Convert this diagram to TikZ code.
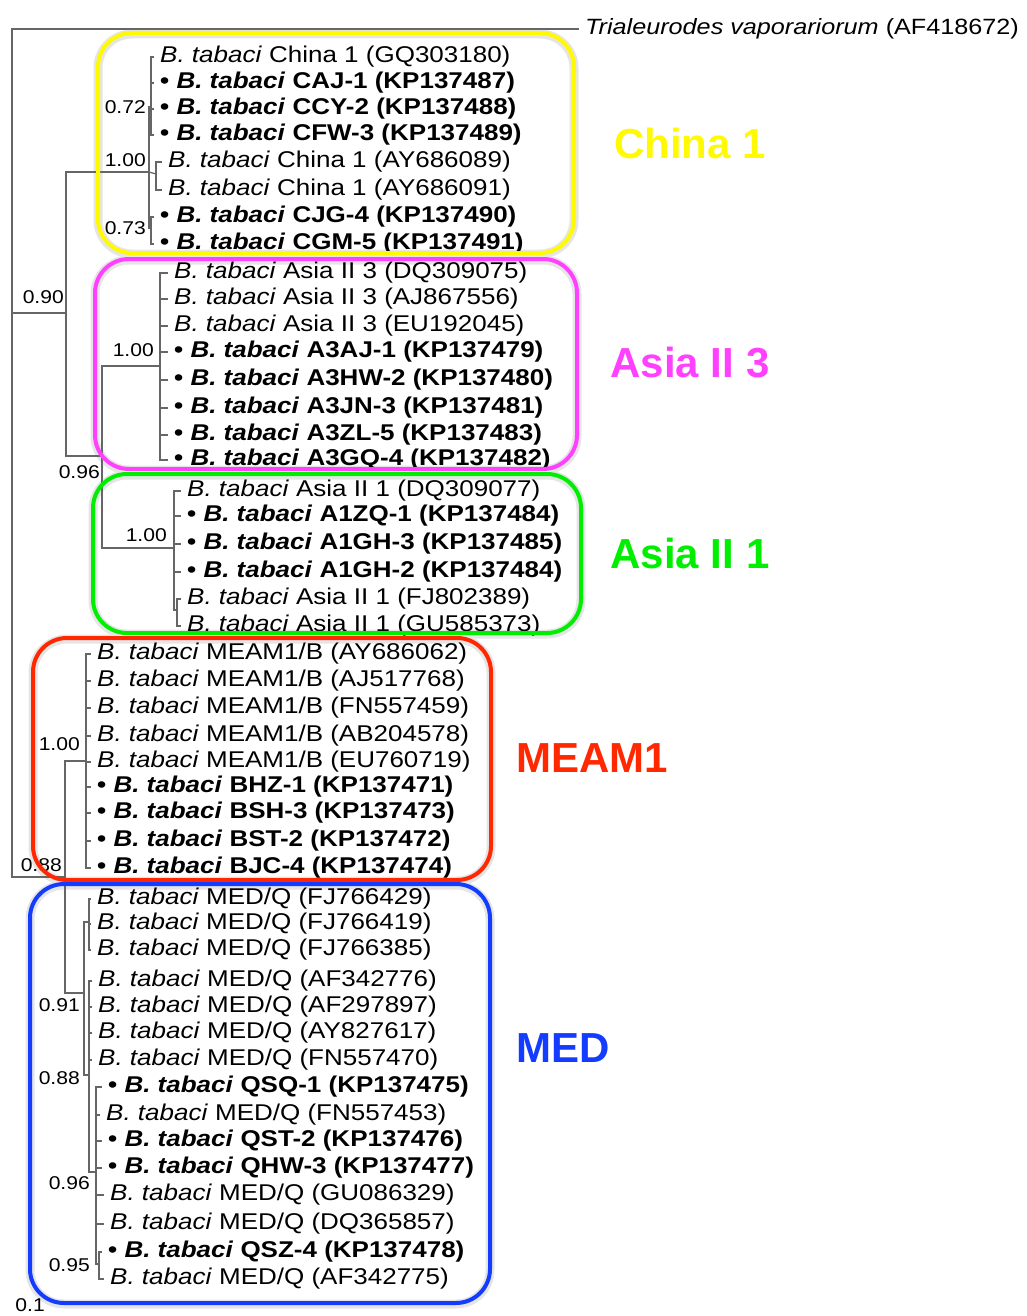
\documentclass[tikz,border=0pt]{standalone}
\usepackage{fontspec}
\setmainfont{Liberation Sans}[FakeStretch=1.14]
\newfontfamily\cladefont{Liberation Sans}
\usetikzlibrary{positioning}
\definecolor{myyellow}{RGB}{255,250,0}
\definecolor{mymagenta}{RGB}{255,64,255}
\definecolor{mygreen}{RGB}{0,238,0}
\definecolor{myred}{RGB}{255,40,0}
\definecolor{myblue}{RGB}{20,60,255}
\newcommand{\reftip}[1]{\textit{B. tabaci} #1}
\newcommand{\newtip}[2]{\textbf{\textbullet\ \textit{B. tabaci} #1 (#2)}}

\begin{document}
\begin{tikzpicture}[x=1pt, y=-1pt,
    tree/.style = {draw=black!60, line width=1.3pt},
    tipn/.style = {anchor=west, inner xsep=6pt, inner ysep=0pt, yshift=-2pt,
      font=\fontsize{22.8}{24}\selectfont},
    supp/.style = {anchor=east, inner sep=0pt, font=\fontsize{18.5}{20}\selectfont},
    cladebox/.style = {rounded corners=34pt, line width=4pt},
    halo/.style = {draw=black!10, rounded corners=34pt, line width=9pt},
    cladelab/.style = {font=\cladefont\bfseries\fontsize{42}{44}\selectfont},
  ]
\useasboundingbox (0,0) rectangle (1026,1316);

% halo behind the clade boxes
\foreach \a/\b/\c/\d in {98/33/574/253, 95/259/577/469, 93/474/581/633,
    33/638/491/880, 30/884/490/1303}
  \draw[halo] (\a,\b+1) rectangle (\c,\d+1);

% internal nodes of the tree
\coordinate (root)   at (12,313);
\coordinate (n090)   at (66,313);
\coordinate (nChina) at (149,172);
\coordinate (n072)   at (151,107);
\coordinate (nAY)    at (156,174);
\coordinate (n073)   at (151,228);
\coordinate (n096)   at (102,456);
\coordinate (nA3)    at (160,366);
\coordinate (nA1)    at (174,548);
\coordinate (nA1b)   at (177,610);
\coordinate (n088)   at (65,877);
\coordinate (nMEAM)  at (86,761);
\coordinate (nMED)   at (84,993);
\coordinate (nMEDa)  at (89,922);
\coordinate (nMEDb)  at (89,1075);
\coordinate (nMEDc)  at (96,1172);
\coordinate (nMEDd)  at (99,1264);

\draw[tree] (root) -- (n090);
\draw[tree] (root) |- (n088);
\draw[tree] (n090) |- (nChina);
\draw[tree] (n090) |- (n096);
\draw[tree] (nChina) |- (n072);
\draw[tree] (nChina) -- (nAY);
\draw[tree] (nChina) |- (n073);
\draw[tree] (n096) |- (nA3);
\draw[tree] (n096) |- (nA1);
\draw[tree] (nA1) |- (nA1b);
\draw[tree] (n088) |- (nMEAM);
\draw[tree] (n088) |- (nMED);
\draw[tree] (nMED) |- (nMEDa);
\draw[tree] (nMED) |- (nMEDb);
\draw[tree] (nMEDb) |- (nMEDc);
\draw[tree] (nMEDc) |- (nMEDd);

% outgroup
\node[tipn, font=\fontsize{22.1}{24}\selectfont] (tv) at (579,27)
  {\textit{Trialeurodes vaporariorum} (AF418672)};
\draw[tree] (root) |- (tv.west);

% tips: name/parent/x/y/text
\foreach \n/\p/\x/\y/\t in {
    c1/n072/154/55/{\reftip{China 1 (GQ303180)}},
    c2/n072/154/81/{\newtip{CAJ-1}{KP137487}},
    c3/n072/154/107/{\newtip{CCY-2}{KP137488}},
    c4/n072/154/133/{\newtip{CFW-3}{KP137489}},
    c5/nAY/162/160/{\reftip{China 1 (AY686089)}},
    c6/nAY/162/188/{\reftip{China 1 (AY686091)}},
    c7/n073/154/215/{\newtip{CJG-4}{KP137490}},
    c8/n073/154/242/{\newtip{CGM-5}{KP137491}},
    d1/nA3/168/271/{\reftip{Asia II 3 (DQ309075)}},
    d2/nA3/168/297/{\reftip{Asia II 3 (AJ867556)}},
    d3/nA3/168/324/{\reftip{Asia II 3 (EU192045)}},
    d4/nA3/168/350/{\newtip{A3AJ-1}{KP137479}},
    d5/nA3/168/378/{\newtip{A3HW-2}{KP137480}},
    d6/nA3/168/406/{\newtip{A3JN-3}{KP137481}},
    d7/nA3/168/433/{\newtip{A3ZL-5}{KP137483}},
    d8/nA3/168/458/{\newtip{A3GQ-4}{KP137482}},
    e1/nA1/181/489/{\reftip{Asia II 1 (DQ309077)}},
    e2/nA1/181/514/{\newtip{A1ZQ-1}{KP137484}},
    e3/nA1/181/542/{\newtip{A1GH-3}{KP137485}},
    e4/nA1/181/570/{\newtip{A1GH-2}{KP137484}},
    e5/nA1b/181/597/{\reftip{Asia II 1 (FJ802389)}},
    e6/nA1b/181/624/{\reftip{Asia II 1 (GU585373)}},
    f1/nMEAM/91/652/{\reftip{MEAM1/B (AY686062)}},
    f2/nMEAM/91/679/{\reftip{MEAM1/B (AJ517768)}},
    f3/nMEAM/91/706/{\reftip{MEAM1/B (FN557459)}},
    f4/nMEAM/91/734/{\reftip{MEAM1/B (AB204578)}},
    f5/nMEAM/91/760/{\reftip{MEAM1/B (EU760719)}},
    f6/nMEAM/91/785/{\newtip{BHZ-1}{KP137471}},
    f7/nMEAM/91/811/{\newtip{BSH-3}{KP137473}},
    f8/nMEAM/91/839/{\newtip{BST-2}{KP137472}},
    f9/nMEAM/91/866/{\newtip{BJC-4}{KP137474}},
    g1/nMEDa/91/897/{\reftip{MED/Q (FJ766429)}},
    g2/nMEDa/91/922/{\reftip{MED/Q (FJ766419)}},
    g3/nMEDa/91/948/{\reftip{MED/Q (FJ766385)}},
    g4/nMEDb/92/979/{\reftip{MED/Q (AF342776)}},
    g5/nMEDb/92/1005/{\reftip{MED/Q (AF297897)}},
    g6/nMEDb/92/1031/{\reftip{MED/Q (AY827617)}},
    g7/nMEDb/92/1058/{\reftip{MED/Q (FN557470)}},
    g8/nMEDc/102/1085/{\newtip{QSQ-1}{KP137475}},
    g9/nMEDc/100/1113/{\reftip{MED/Q (FN557453)}},
    g10/nMEDc/102/1139/{\newtip{QST-2}{KP137476}},
    g11/nMEDc/102/1166/{\newtip{QHW-3}{KP137477}},
    g12/nMEDc/104/1193/{\reftip{MED/Q (GU086329)}},
    g13/nMEDc/104/1222/{\reftip{MED/Q (DQ365857)}},
    g14/nMEDd/102/1250/{\newtip{QSZ-4}{KP137478}},
    g15/nMEDd/104/1277/{\reftip{MED/Q (AF342775)}}}
{
  \node[tipn] (\n) at (\x,\y) {\t};
  \draw[tree] (\p) |- (\n.west);
}

% posterior probabilities
\foreach \x/\y/\v [count=\i] in {146/107/0.72, 146/160/1.00, 146/228/0.73,
    64/297/0.90, 154/350/1.00, 100/472/0.96, 167/535/1.00, 80/744/1.00,
    62/865/0.88, 80/1005/0.91, 80/1078/0.88, 90/1183/0.96, 90/1265/0.95,
    45/1305/0.1}
  \node[supp] (pp\i) at (\x,\y) {\v};

% clade boxes
\draw[cladebox, draw=myyellow]  (98,33)  rectangle (574,253);
\draw[cladebox, draw=mymagenta] (95,259) rectangle (577,469);
\draw[cladebox, draw=mygreen]   (93,474) rectangle (581,633);
\draw[cladebox, draw=myred]     (33,638) rectangle (491,880);
\draw[cladebox, draw=myblue]    (30,884) rectangle (490,1303);

\node[cladelab, text=myyellow]  (lChina) at (690,143)  {China 1};
\node[cladelab, text=mymagenta] (lA3)    at (690,363)  {Asia II 3};
\node[cladelab, text=mygreen]   (lA1)    at (690,553)  {Asia II 1};
\node[cladelab, text=myred]     (lMEAM)  at (592,758)  {MEAM1};
\node[cladelab, text=myblue]    (lMED)   at (563,1048) {MED};
\end{tikzpicture}
\end{document}
